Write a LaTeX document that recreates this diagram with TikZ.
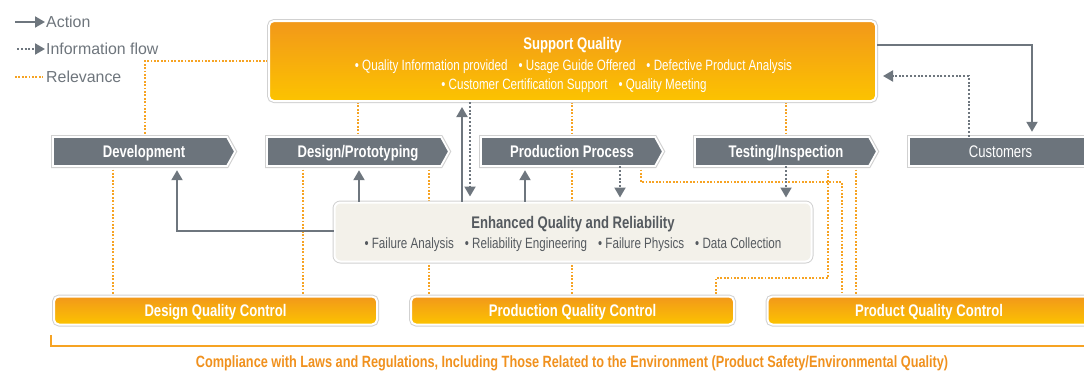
\documentclass[tikz,border=0pt]{standalone}
\usepackage{fontspec}
\setmainfont{Liberation Sans}
\newfontfamily\cnd{Liberation Sans}[FakeStretch=0.78]
\usetikzlibrary{arrows.meta,calc}
\definecolor{stagegray}{RGB}{108,116,124}
\definecolor{arrgray}{RGB}{110,118,126}
\definecolor{relor}{RGB}{246,163,35}
\definecolor{otop}{RGB}{242,152,26}
\definecolor{obot}{RGB}{252,195,0}
\definecolor{eqfill}{RGB}{243,241,234}
\definecolor{eqtext}{RGB}{85,90,95}
\definecolor{legtext}{RGB}{110,117,124}
\definecolor{compor}{RGB}{240,145,30}
\pgfdeclarelayer{bg}
\pgfsetlayers{bg,main}
\newcommand\stagebox[3]{%
  \draw[stageshape] ({#2},137) -- ({#2+174},137) -- ({#2+182},151.5) -- ({#2+174},166) -- ({#2},166) -- cycle;
  \node[stagelabel] (#1) at ({#2+91},151.5) {#3};
}
\begin{document}
\begin{tikzpicture}[x=1pt,y=-1pt,
  halo/.style={preaction={draw=black!18,line width=4pt}},
  boldfont/.style={font=\cnd\bfseries\fontsize{16.8}{19}\selectfont, text height=12pt, text depth=0pt},
  orangebox/.style={halo, draw=white, line width=2pt, rounded corners=5pt,
    top color=otop, bottom color=obot, inner sep=0pt, text=white, boldfont},
  stageshape/.style={halo, draw=white, line width=1.8pt, fill=stagegray, line join=miter},
  stagelabel/.style={minimum width=182pt, minimum height=29pt, inner sep=0pt, text=white, boldfont},
  sqtitle/.style={inner sep=0pt, text=white, boldfont},
  sqbul/.style={inner sep=0pt, text=white, font=\cnd\fontsize{14.9}{17}\selectfont,
    text height=10.7pt, text depth=0pt},
  eqtitle/.style={sqtitle, text=eqtext},
  eqbul/.style={sqbul, text=eqtext},
  legend/.style={inner sep=1pt, anchor=west, text=legtext, font=\fontsize{15.9}{19}\selectfont,
    text height=11.4pt, text depth=0pt},
  act/.style={draw=arrgray, line width=2pt, -{Triangle[width=11pt,length=10pt]}},
  info/.style={draw=arrgray, line width=2pt, dash pattern=on 2pt off 1.8pt, -{Triangle[width=11pt,length=10pt]}},
  rel/.style={draw=relor, line width=1.8pt, dash pattern=on 1.8pt off 1.6pt},
]
\useasboundingbox (0,0) rectangle (1084,373);

% legend
\coordinate (la) at (15,22);
\node[legend] (lA) at (45,22) {Action};
\draw[act] (la) -- (lA.west);
\coordinate (li) at (17,49);
\node[legend] (lI) at (45,49) {Information flow};
\draw[info] (li) -- (lI.west);
\coordinate (lr) at (15,77);
\node[legend] (lR) at (45,77) {Relevance};
\draw[rel] (lr) -- ([xshift=-2pt]lR.west);

% support quality
\node[orangebox, minimum width=607pt, minimum height=80pt] (sq) at (572.5,61) {};
\node[sqtitle] (sqt) at (572.5,43) {Support Quality};
\node[sqbul] (sqb1) at (573.5,65) {\textbullet\ Quality Information provided\hspace{11pt}\textbullet\ Usage Guide Offered\hspace{11pt}\textbullet\ Defective Product Analysis};
\node[sqbul] (sqb2) at (574,84) {\textbullet\ Customer Certification Support\hspace{11pt}\textbullet\ Quality Meeting};

% stages
\stagebox{dev}{53}{Development}
\stagebox{dp}{267}{Design/Prototyping}
\stagebox{pp}{481}{Production Process}
\stagebox{ti}{695}{Testing/Inspection}
\draw[stageshape] (909,137) rectangle (1092,166);
\node[stagelabel, font=\cnd\fontsize{16.8}{19}\selectfont] (cust) at (1000.5,151.5) {Customers};

% enhanced quality
\node[halo, draw=white, line width=2pt, rounded corners=6pt, fill=eqfill,
  minimum width=477pt, minimum height=59pt] (eq) at (573,232) {};
\node[eqtitle] (eqt) at (573,222) {Enhanced Quality and Reliability};
\node[eqbul] (eqb) at (573,243) {\textbullet\ Failure Analysis\hspace{11pt}\textbullet\ Reliability Engineering\hspace{11pt}\textbullet\ Failure Physics\hspace{11pt}\textbullet\ Data Collection};

% bottom boxes
\node[orangebox, minimum width=323pt, minimum height=28pt] (dqc) at (215.5,310.5) {Design Quality Control};
\node[orangebox, minimum width=323pt, minimum height=28pt] (pqc) at (572.5,310.5) {Production Quality Control};
\node[orangebox, minimum width=323pt, minimum height=28pt] (prqc) at (929,310.5) {Product Quality Control};

% compliance bracket
\coordinate (brL) at (51,335);
\coordinate (brR) at (1090,346);
\draw[draw=relor, line width=2pt] (brL) -- (51,346) -- (brR);
\node[inner sep=0pt, text=compor, font=\cnd\bfseries\fontsize{16.3}{19}\selectfont,
  text height=11.7pt, text depth=0pt] (comp) at (572,362)
  {Compliance with Laws and Regulations, Including Those Related to the Environment (Product Safety/Environmental Quality)};

% relevance lines
\begin{pgfonlayer}{bg}
\draw[rel] (sq.west |- 0,61) -| (145,0 |- dev.north);
\draw[rel] (358,0 |- sq.south) -- (358,0 |- dp.north);
\draw[rel] (572,0 |- sq.south) -- (572,0 |- pp.north);
\draw[rel] (786,0 |- sq.south) -- (786,0 |- ti.north);
\draw[rel] (113,0 |- dev.south) -- (113,0 |- dqc.north);
\draw[rel] (303,0 |- dp.south) -- (303,0 |- dqc.north);
\draw[rel] (429,0 |- dp.south) -- (429,0 |- pqc.north);
\draw[rel] (572,0 |- pp.south) -- (572,0 |- pqc.north);
\draw[rel] (641,0 |- pp.south) |- (842,182) -- (842,0 |- prqc.north);
\draw[rel] (828,0 |- ti.south) -- (828,278) -| (716,0 |- pqc.north);
\draw[rel] (856,0 |- ti.south) -- (856,0 |- prqc.north);
\end{pgfonlayer}

% action arrows
\draw[act, shorten >=4pt] (eq.west |- 0,231) -| (177,0 |- dev.south);
\draw[act, shorten >=4pt] (359,0 |- eq.north) -- (359,0 |- dp.south);
\draw[act, shorten >=5pt] (462,0 |- eq.north) -- (462,0 |- sq.south);
\draw[act, shorten >=4pt] (525,0 |- eq.north) -- (525,0 |- pp.south);
\draw[act, shorten >=5pt] (sq.east |- 0,45) -| (1032,0 |- cust.north);

% information flow
\draw[info, shorten >=5pt] (470,0 |- sq.south) -- (470,0 |- eq.north);
\draw[info, shorten >=4pt] (620,0 |- pp.south) -- (620,0 |- eq.north);
\draw[info, shorten >=4pt] (786,0 |- ti.south) -- (786,0 |- eq.north);
\draw[info, shorten >=6pt] (969,0 |- cust.north) |- (sq.east |- 0,76);
\end{tikzpicture}
\end{document}
